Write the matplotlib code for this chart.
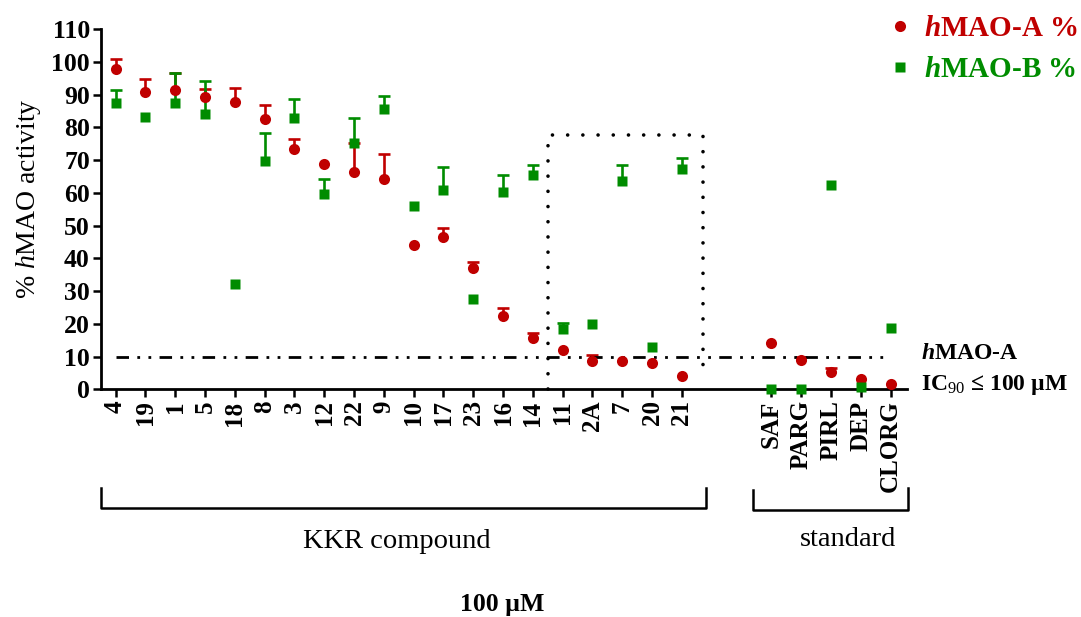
import matplotlib
matplotlib.use('Agg')
import matplotlib.pyplot as plt
import numpy as np

plt.rcParams['font.family'] = ['Liberation Serif', 'DejaVu Serif']
plt.rcParams['mathtext.fontset'] = 'custom'
plt.rcParams['mathtext.rm'] = 'Liberation Serif'
plt.rcParams['mathtext.it'] = 'Liberation Serif:italic'
plt.rcParams['mathtext.bf'] = 'Liberation Serif:bold'
plt.rcParams['mathtext.bfit'] = 'Liberation Serif:italic:bold'

# compounds, then standards (two empty slots between the groups)
compounds = ['4', '19', '1', '5', '18', '8', '3', '12', '22', '9', '10', '17',
             '23', '16', '14', '11', '2A', '7', '20', '21']
standards = ['SAF', 'PARG', 'PIRL', 'DEP', 'CLORG']

mao_a = [97.9, 90.7, 91.5, 89.3, 87.8, 82.6, 73.5, 68.7, 66.2, 64.2, 44.2, 46.4,
         36.9, 22.3, 15.7, 12.1, 8.7, 8.8, 8.0, 4.1]
mao_a_err = [3.0, 4.1, 5.0, 2.5, 4.3, 4.3, 3.0, 0, 9.0, 7.5, 0, 2.9,
             2.0, 2.6, 1.4, 0, 1.8, 0, 0, 0]
mao_b = [87.5, 83.1, 87.3, 84.1, 32.2, 69.8, 82.8, 59.5, 75.3, 85.6, 55.9, 60.8,
         27.7, 60.2, 65.3, 18.4, 19.8, 63.5, 12.9, 67.3]
mao_b_err = [3.8, 0, 9.2, 9.9, 0, 8.6, 5.9, 4.6, 7.5, 3.8, 0, 7.1,
             0, 5.1, 3.1, 1.9, 0, 5.0, 0, 3.4]

std_a = [14.2, 9.1, 5.3, 3.1, 1.6]
std_a_err = [0, 0.8, 1.3, 0, 0]
std_b = [0.2, 0.2, 62.3, 0.8, 18.6]
std_b_err = [0, 0, 0, 0, 0]

RED = '#C00000'
GREEN = '#008C00'


def upper_errbar(ax, x, y, err, color):
    # upper error bar with a cap on top only
    m = err > 0
    ax.vlines(x[m], y[m], y[m] + err[m], color=color, lw=1.9, zorder=2)
    ax.plot(x[m], y[m] + err[m], '_', color=color, ms=8, mew=1.9, zorder=2)


def main():
    n = len(compounds)
    x_cmp = np.arange(n)
    x_std = np.arange(n + 2, n + 2 + len(standards))
    x_all = np.concatenate([x_cmp, x_std])
    labels = compounds + standards

    a = np.array(mao_a + std_a)
    a_err = np.array(mao_a_err + std_a_err)
    b = np.array(mao_b + std_b)
    b_err = np.array(mao_b_err + std_b_err)

    fig = plt.figure(figsize=(10.81, 6.17), dpi=100)
    ax = fig.add_axes([0.0934, 0.369, 0.7456, 0.584])

    upper_errbar(ax, x_all, a, a_err, RED)
    upper_errbar(ax, x_all, b, b_err, GREEN)
    ax.plot(x_all, a, 'o', color=RED, ms=8, mec='none', zorder=4, clip_on=False,
            label=r'$\mathbfit{h}$MAO-A %')
    ax.plot(x_all, b, 's', color=GREEN, ms=7.5, mec='none', zorder=4, clip_on=False,
            label=r'$\mathbfit{h}$MAO-B %')

    # 10 % threshold line
    ax.plot([0, x_std[-1]], [10, 10], color='black', lw=2.0,
            dashes=(4.5, 3, 1, 3, 1, 3), zorder=3)

    # dotted box around the selected compounds
    box_kw = dict(color='black', lw=2.6, dashes=(0.01, 4.2),
                  dash_capstyle='round', zorder=3, clip_on=False)
    ax.plot([14.5, 14.5, 19.7, 19.7], [0, 77.5, 77.5, 3.8], **box_kw)

    ax.set_xlim(-0.49, 26.55)
    ax.set_ylim(0, 110)
    ax.set_yticks(np.arange(0, 111, 10))
    ax.set_xticks(x_all)
    ax.set_xticklabels(labels, rotation=90, fontsize=18, fontweight='bold')
    for t in ax.get_yticklabels():
        t.set_fontsize(18.5)
        t.set_fontweight('bold')
    ax.tick_params(width=1.8, length=6, pad=2)
    for s in ['top', 'right']:
        ax.spines[s].set_visible(False)
    for s in ['left', 'bottom']:
        ax.spines[s].set_linewidth(2)

    ax.set_ylabel(r'% $\mathit{h}$MAO activity', fontsize=20, labelpad=6)
    ax.yaxis.set_label_coords(-0.072, 0.53)

    # right-hand annotation
    ax.text(1.018, 11.0, r'$\mathbfit{h}$MAO-A', transform=ax.get_yaxis_transform(),
            fontsize=17, fontweight='bold', va='center', ha='left')
    ax.text(1.018, 1.2, r'IC$_{90}$ ≤ 100 µM', transform=ax.get_yaxis_transform(),
            fontsize=17, fontweight='bold', va='center', ha='left')

    leg = ax.legend(loc='upper left', bbox_to_anchor=(0.808, 0.995),
                    bbox_transform=fig.transFigure, frameon=False,
                    prop={'size': 21, 'weight': 'bold'}, handletextpad=0.35,
                    handlelength=1.0, labelspacing=0.5, borderaxespad=0)
    for txt, c in zip(leg.get_texts(), [RED, GREEN]):
        txt.set_color(c)

    # group brackets below the tick labels
    def bracket(x0, x1, ytop0, ytop1, ybot):
        xs = np.array([x0, x0, x1, x1]) / 1081
        ys = 1 - np.array([ytop0, ybot, ybot, ytop1]) / 617
        fig.add_artist(plt.Line2D(xs, ys, color='black', lw=1.8))

    bracket(101, 706, 488, 488, 508)
    bracket(753, 907.5, 490, 488, 510)
    fig.text(397 / 1081, 1 - 542 / 617, 'KKR compound', fontsize=20.5,
             ha='center', va='center')
    fig.text(848 / 1081, 1 - 540 / 617, 'standard', fontsize=20.5,
             ha='center', va='center')
    fig.text(502 / 1081, 1 - 604 / 617, '100 µM', fontsize=18.5,
             fontweight='bold', ha='center', va='center')

    fig.savefig('out.png', dpi=100)


if __name__ == '__main__':
    main()
